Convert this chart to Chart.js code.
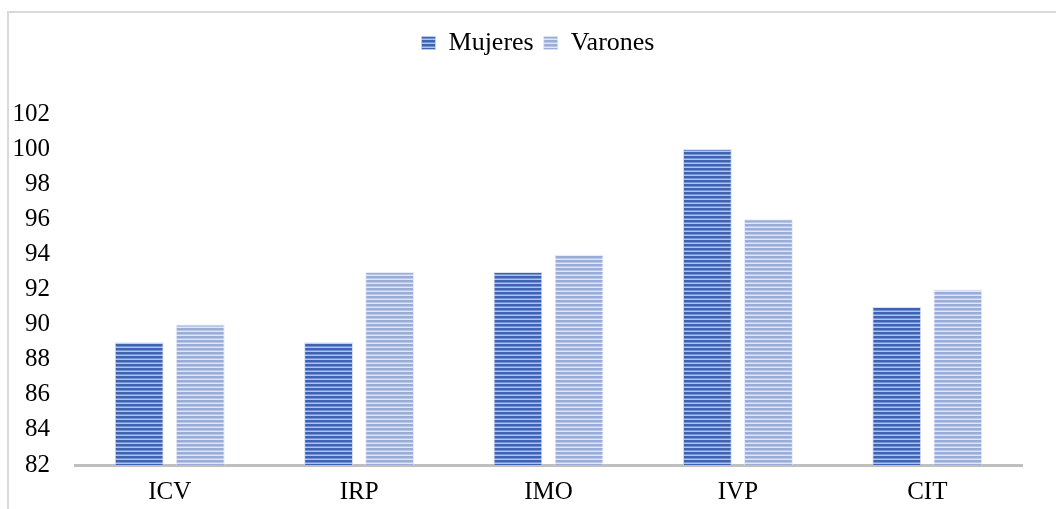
<!DOCTYPE html>
<html>
<head>
<meta charset="utf-8">
<script src="https://cdn.jsdelivr.net/npm/chart.js@4.4.1/dist/chart.umd.min.js"></script>
<style>
  html, body { margin: 0; padding: 0; background: #ffffff; }
  #wrap { position: relative; width: 1056px; height: 509px; overflow: hidden; }
  #frame { position: absolute; left: 7px; top: 11px; width: 1100px; height: 600px; border-left: 2px solid #d9d9d9; border-top: 2px solid #d9d9d9; box-sizing: border-box; }
  canvas { position: absolute; left: 0; top: 0; }
</style>
</head>
<body>
<div id="wrap">
  <div id="frame"></div>
  <canvas id="c" width="1056" height="509"></canvas>
</div>
<script>
const categories = ['ICV', 'IRP', 'IMO', 'IVP', 'CIT'];
const mujeres = [89, 89, 93, 100, 91];
const varones = [90, 93, 94, 96, 92];
const seriesNames = ['Mujeres', 'Varones'];
const yMin = 82, yMax = 102, yStep = 2;

function stripePattern(rows) {
  const p = document.createElement('canvas');
  p.width = 8; p.height = rows.length;
  const g = p.getContext('2d');
  rows.forEach((col, i) => { g.fillStyle = col; g.fillRect(0, i, 8, 1); });
  return document.getElementById('c').getContext('2d').createPattern(p, 'repeat');
}
const patM = stripePattern(['#3e63b2', '#3e63b2', '#7292d0', '#afc2e9']);
const patV = stripePattern(['#9aacd9', '#9aacd9', '#b9c6e8', '#e0e6f5']);

const legendSpace = {
  id: 'legendSpace',
  beforeInit(chart) {
    const fit = chart.legend.fit;
    chart.legend.fit = function () { fit.call(this); this.height += 48; };
  },
  afterLayout(chart) {
    chart.legend.left += 27;
    chart.legend.right += 27;
  }
};

const serif = '"Liberation Serif", "Times New Roman", serif';

new Chart(document.getElementById('c'), {
  type: 'bar',
  data: {
    labels: categories,
    datasets: [
      { label: seriesNames[0], data: mujeres, backgroundColor: patM, borderColor: 'rgba(200,212,238,0.7)', borderWidth: 1 },
      { label: seriesNames[1], data: varones, backgroundColor: patV, borderColor: 'rgba(220,228,246,0.7)', borderWidth: 1 }
    ]
  },
  options: {
    responsive: false,
    animation: false,
    datasets: { bar: { categoryPercentage: 0.645, barPercentage: 0.80 } },
    layout: { padding: { top: 20, right: 34, bottom: 0, left: 0 } },
    plugins: {
      legend: {
        position: 'top',
        labels: { font: { family: serif, size: 26 }, color: '#000', boxWidth: 14, boxHeight: 13, padding: 10 }
      },
      tooltip: { enabled: false }
    },
    scales: {
      x: {
        grid: { display: false, drawTicks: false },
        border: { display: true, color: '#bfbfbf', width: 3 },
        ticks: { font: { family: serif, size: 25 }, color: '#000', padding: 12 },
        afterFit(s) { s.height = 44; }
      },
      y: {
        min: yMin, max: yMax,
        grid: { display: false, drawTicks: false },
        border: { display: false },
        ticks: { stepSize: yStep, font: { family: serif, size: 25 }, color: '#000', padding: 25 },
        afterFit(s) { s.width = 75; }
      }
    }
  },
  plugins: [legendSpace]
});
</script>
</body>
</html>
